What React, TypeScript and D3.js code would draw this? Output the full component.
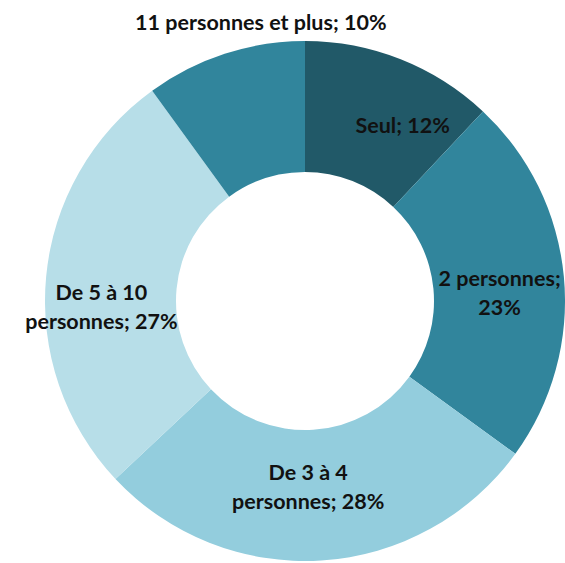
import React, { useEffect, useRef } from "react";
import * as d3 from "d3";

const categories = [
  "Seul",
  "2 personnes",
  "De 3 à 4 personnes",
  "De 5 à 10 personnes",
  "11 personnes et plus",
];
const shares = [12, 23, 28, 27, 10];
// label lines as printed on the chart
const labelLines = [
  ["Seul; 12%"],
  ["2 personnes;", "23%"],
  ["De 3 à 4", "personnes; 28%"],
  ["De 5 à 10", "personnes; 27%"],
  ["11 personnes et plus; 10%"],
];
const sliceColors = ["#215968", "#31859c", "#93cddd", "#b7dee8", "#31859c"];

export default function App() {
  const ref = useRef<SVGSVGElement | null>(null);

  useEffect(() => {
    const width = 565;
    const height = 563;
    const cx = 305;
    const cy = 301;
    const outerR = 260;
    const innerR = 129;
    const lineH = 29;
    // small label shifts, like excel's "best fit" placement
    const nudge: [number, number][] = [
      [26, 5],
      [1, 10],
      [-9, -8],
      [-10, 24],
      [0, 0],
    ];

    const svg = d3.select(ref.current);
    svg.selectAll("*").remove();
    svg.attr("width", width).attr("height", height);

    const data = categories.map((name, i) => ({ name, value: shares[i], i }));

    const pie = d3
      .pie<{ name: string; value: number; i: number }>()
      .sort(null)
      .value((d) => d.value);

    const arc = d3
      .arc<d3.PieArcDatum<{ name: string; value: number; i: number }>>()
      .innerRadius(innerR)
      .outerRadius(outerR);

    const g = svg.append("g").attr("transform", `translate(${cx},${cy})`);
    const arcs = pie(data);

    g.selectAll("path")
      .data(arcs)
      .join("path")
      .attr("d", arc)
      .attr("fill", (d) => sliceColors[d.data.i]);

    const labels = g
      .selectAll("text")
      .data(arcs)
      .join("text")
      .attr("text-anchor", "middle")
      .attr("font-family", "Lato, 'Open Sans', sans-serif")
      .attr("font-weight", "bold")
      .attr("font-size", 21.5)
      .attr("fill", "#111")
      .attr("transform", (d) => {
        const i = d.data.i;
        if (i === 4) {
          // too thin: excel puts it outside above the ring
          const mid = (d.startAngle + d.endAngle) / 2;
          const x = (outerR * 0.55) * Math.sin(mid);
          return `translate(${x},${-outerR - 19})`;
        }
        const [x, y] = arc.centroid(d);
        return `translate(${x + nudge[i][0]},${y + nudge[i][1]})`;
      });

    labels
      .selectAll("tspan")
      .data((d) => labelLines[d.data.i].map((t, k, arr) => ({ t, k, n: arr.length })))
      .join("tspan")
      .attr("x", 0)
      .attr("y", (d) => (d.k - (d.n - 1) / 2) * lineH)
      .attr("dy", "0.35em")
      .text((d) => d.t);
  }, []);

  return (
    <svg
      ref={ref}
      style={{ position: "absolute", left: 0, top: 0, background: "#fff" }}
    />
  );
}
